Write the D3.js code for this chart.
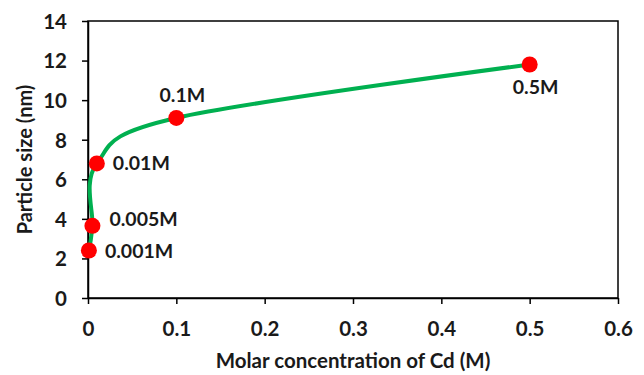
<!DOCTYPE html>
<html>
<head>
<meta charset="utf-8">
<script src="https://cdn.jsdelivr.net/npm/d3@7"></script>
<style>
  body { margin: 0; background: #fff; }
  text { font-family: Lato, "Open Sans", sans-serif; font-weight: bold; fill: #1a1a1a; }
</style>
</head>
<body>
<div id="chart"></div>
<script>
// molar concentration of Cd (M) and particle size (nm)
const concentrations = [0.001, 0.005, 0.01, 0.1, 0.5];
const sizes = [2.4, 3.65, 6.8, 9.1, 11.8];
const pointLabels = ["0.001M", "0.005M", "0.01M", "0.1M", "0.5M"];
const xTicks = [0, 0.1, 0.2, 0.3, 0.4, 0.5, 0.6];
const yTicks = [0, 2, 4, 6, 8, 10, 12, 14];

const width = 644, height = 375;
const margin = { top: 21, right: 26, bottom: 77, left: 88 };

const svg = d3.select("#chart").append("svg")
  .attr("width", width)
  .attr("height", height);

const x = d3.scaleLinear().domain([0, 0.6]).range([margin.left, width - margin.right]);
const y = d3.scaleLinear().domain([0, 14]).range([height - margin.bottom, margin.top]);

// frame
svg.append("rect")
  .attr("x", x(0)).attr("y", y(14))
  .attr("width", x(0.6) - x(0)).attr("height", y(0) - y(14))
  .attr("fill", "none").attr("stroke", "#000").attr("stroke-width", 1.5);

const xAxis = svg.append("g")
  .attr("transform", `translate(0,${y(0)})`)
  .call(d3.axisBottom(x).tickValues(xTicks).tickSize(6).tickSizeOuter(0)
    .tickFormat(d => d === 0 ? "0" : d3.format(".1f")(d)));
const yAxis = svg.append("g")
  .attr("transform", `translate(${x(0)},0)`)
  .call(d3.axisLeft(y).tickValues(yTicks).tickSize(6).tickSizeOuter(0));

[xAxis, yAxis].forEach(g => {
  g.select(".domain").attr("stroke", "#000").attr("stroke-width", 1.5);
  g.selectAll(".tick line").attr("stroke", "#000").attr("stroke-width", 1.5);
  g.selectAll(".tick text").attr("font-size", 20.5).attr("fill", "#1a1a1a");
});
xAxis.selectAll(".tick text").attr("y", 38).attr("dy", null);
yAxis.selectAll(".tick text").attr("x", -21).attr("dy", "0.36em");

const data = concentrations.map((c, i) => ({ c, s: sizes[i], label: pointLabels[i] }));

// smoothed line
svg.append("path")
  .datum(data)
  .attr("fill", "none")
  .attr("stroke", "#00B050")
  .attr("stroke-width", 4)
  .attr("d", d3.line().x(d => x(d.c)).y(d => y(d.s)).curve(d3.curveCardinal.tension(0)));

svg.selectAll("circle")
  .data(data)
  .enter()
  .append("circle")
  .attr("cx", d => x(d.c))
  .attr("cy", d => y(d.s))
  .attr("r", 8)
  .attr("fill", "#FF0000");

// point labels: right for small ones, above for 0.1M, below for 0.5M
const labelPos = {
  "0.001M": { dx: 16, dy: 7, anchor: "start" },
  "0.005M": { dx: 17, dy: 0, anchor: "start" },
  "0.01M": { dx: 16, dy: 7, anchor: "start" },
  "0.1M": { dx: 6, dy: -16, anchor: "middle" },
  "0.5M": { dx: 6, dy: 29, anchor: "middle" }
};
svg.selectAll(".plabel")
  .data(data)
  .enter()
  .append("text")
  .attr("class", "plabel")
  .attr("x", d => x(d.c) + labelPos[d.label].dx)
  .attr("y", d => y(d.s) + labelPos[d.label].dy)
  .attr("text-anchor", d => labelPos[d.label].anchor)
  .attr("font-size", 19.5)
  .text(d => d.label);

svg.append("text")
  .attr("x", (x(0) + x(0.6)) / 2)
  .attr("y", 368)
  .attr("text-anchor", "middle")
  .attr("font-size", 20.5)
  .text("Molar concentration of Cd (M)");

svg.append("text")
  .attr("transform", `translate(32,${(y(0) + y(14)) / 2}) rotate(-90)`)
  .attr("text-anchor", "middle")
  .attr("font-size", 20)
  .text("Particle size (nm)");
</script>
</body>
</html>
